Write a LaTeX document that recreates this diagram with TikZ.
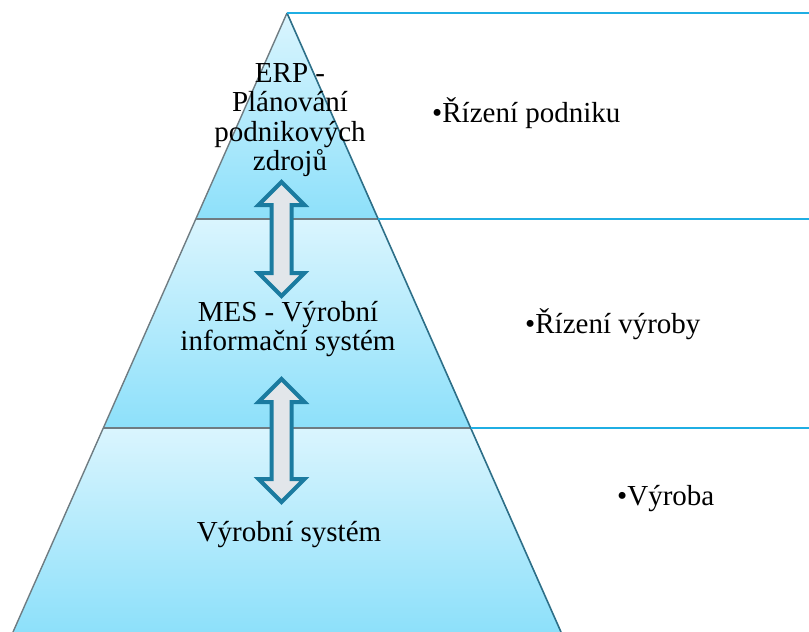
\documentclass[tikz,border=0pt]{standalone}
\usepackage{fontspec}
\setmainfont{Liberation Serif}
\begin{document}
\begin{tikzpicture}[x=1pt,y=-1pt,
  bandtop/.style={top color=bandlight, bottom color=banddark},
  edgeL/.style={draw=edgegray, line width=1.4pt},
  edgeR/.style={draw=edgeteal, line width=1.6pt},
  divider/.style={draw=edgegray, line width=1.4pt},
  guide/.style={draw=guideblue, line width=2.4pt},
  lbl/.style={font=\fontsize{29}{29.5}\selectfont, align=center, inner sep=0pt, anchor=base},
  sidelbl/.style={font=\fontsize{29}{29.5}\selectfont, inner sep=0pt, anchor=base west},
  blockarrow/.style={draw=arrowblue, fill=arrowfill, line width=4pt, line join=miter}
]
\definecolor{bandlight}{HTML}{DAF5FE}
\definecolor{banddark}{HTML}{8DE0FA}
\definecolor{edgegray}{HTML}{6F7C82}
\definecolor{edgeteal}{HTML}{2D6F88}
\definecolor{guideblue}{HTML}{1FAEE3}
\definecolor{arrowblue}{HTML}{1B7BA0}
\definecolor{arrowfill}{HTML}{E2E6EA}
\useasboundingbox (0,0) rectangle (809,632);

% pyramid corners
\coordinate (apex) at (287,13);
\coordinate (L1) at (195.8,219);
\coordinate (R1) at (378.2,219);
\coordinate (L2) at (103.3,428);
\coordinate (R2) at (470.7,428);
\coordinate (L3) at (13,632);
\coordinate (R3) at (561,632);

% three shaded bands
\shade[bandtop] (apex) -- (R1) -- (L1) -- cycle;
\shade[bandtop] (L1) -- (R1) -- (R2) -- (L2) -- cycle;
\shade[bandtop] (L2) -- (R2) -- (R3) -- (L3) -- cycle;

% band dividers and outline
\draw[divider] (L1) -- (R1);
\draw[divider] (L2) -- (R2);
\draw[edgeL] (apex) -- (L3);
\draw[edgeR] (apex) -- (R3);

% level guides to the right
\coordinate (G0) at (809,13);
\coordinate (G1) at (809,219);
\coordinate (G2) at (809,428);
\draw[guide] (apex) -- (G0);
\draw[guide] (R1) -- (G1);
\draw[guide] (R2) -- (G2);

% two-way block arrows between levels
\foreach \cx/\t/\b in {281.5/182/296, 281.5/379/502}{
  \draw[blockarrow] (\cx,\t) -- (\cx+23,\t+23) -- (\cx+10,\t+23) -- (\cx+10,\b-23)
    -- (\cx+23,\b-23) -- (\cx,\b) -- (\cx-23,\b-23) -- (\cx-10,\b-23)
    -- (\cx-10,\t+23) -- (\cx-23,\t+23) -- cycle;
}

% level texts (anchored at the baseline of the last line)
\node[lbl] (erp) at (290,170.5) {ERP -\\Plánování\\podnikových\\zdrojů};
\node[lbl] (mes) at (288,350.5) {MES - Výrobní\\informační systém};
\node[lbl] (prod) at (289,541.5) {Výrobní systém};

% right-hand labels
\node[sidelbl] (l1) at (432,122) {•Řízení podniku};
\node[sidelbl] (l2) at (525,333) {•Řízení výroby};
\node[sidelbl] (l3) at (617,505) {•Výroba};
\end{tikzpicture}
\end{document}
